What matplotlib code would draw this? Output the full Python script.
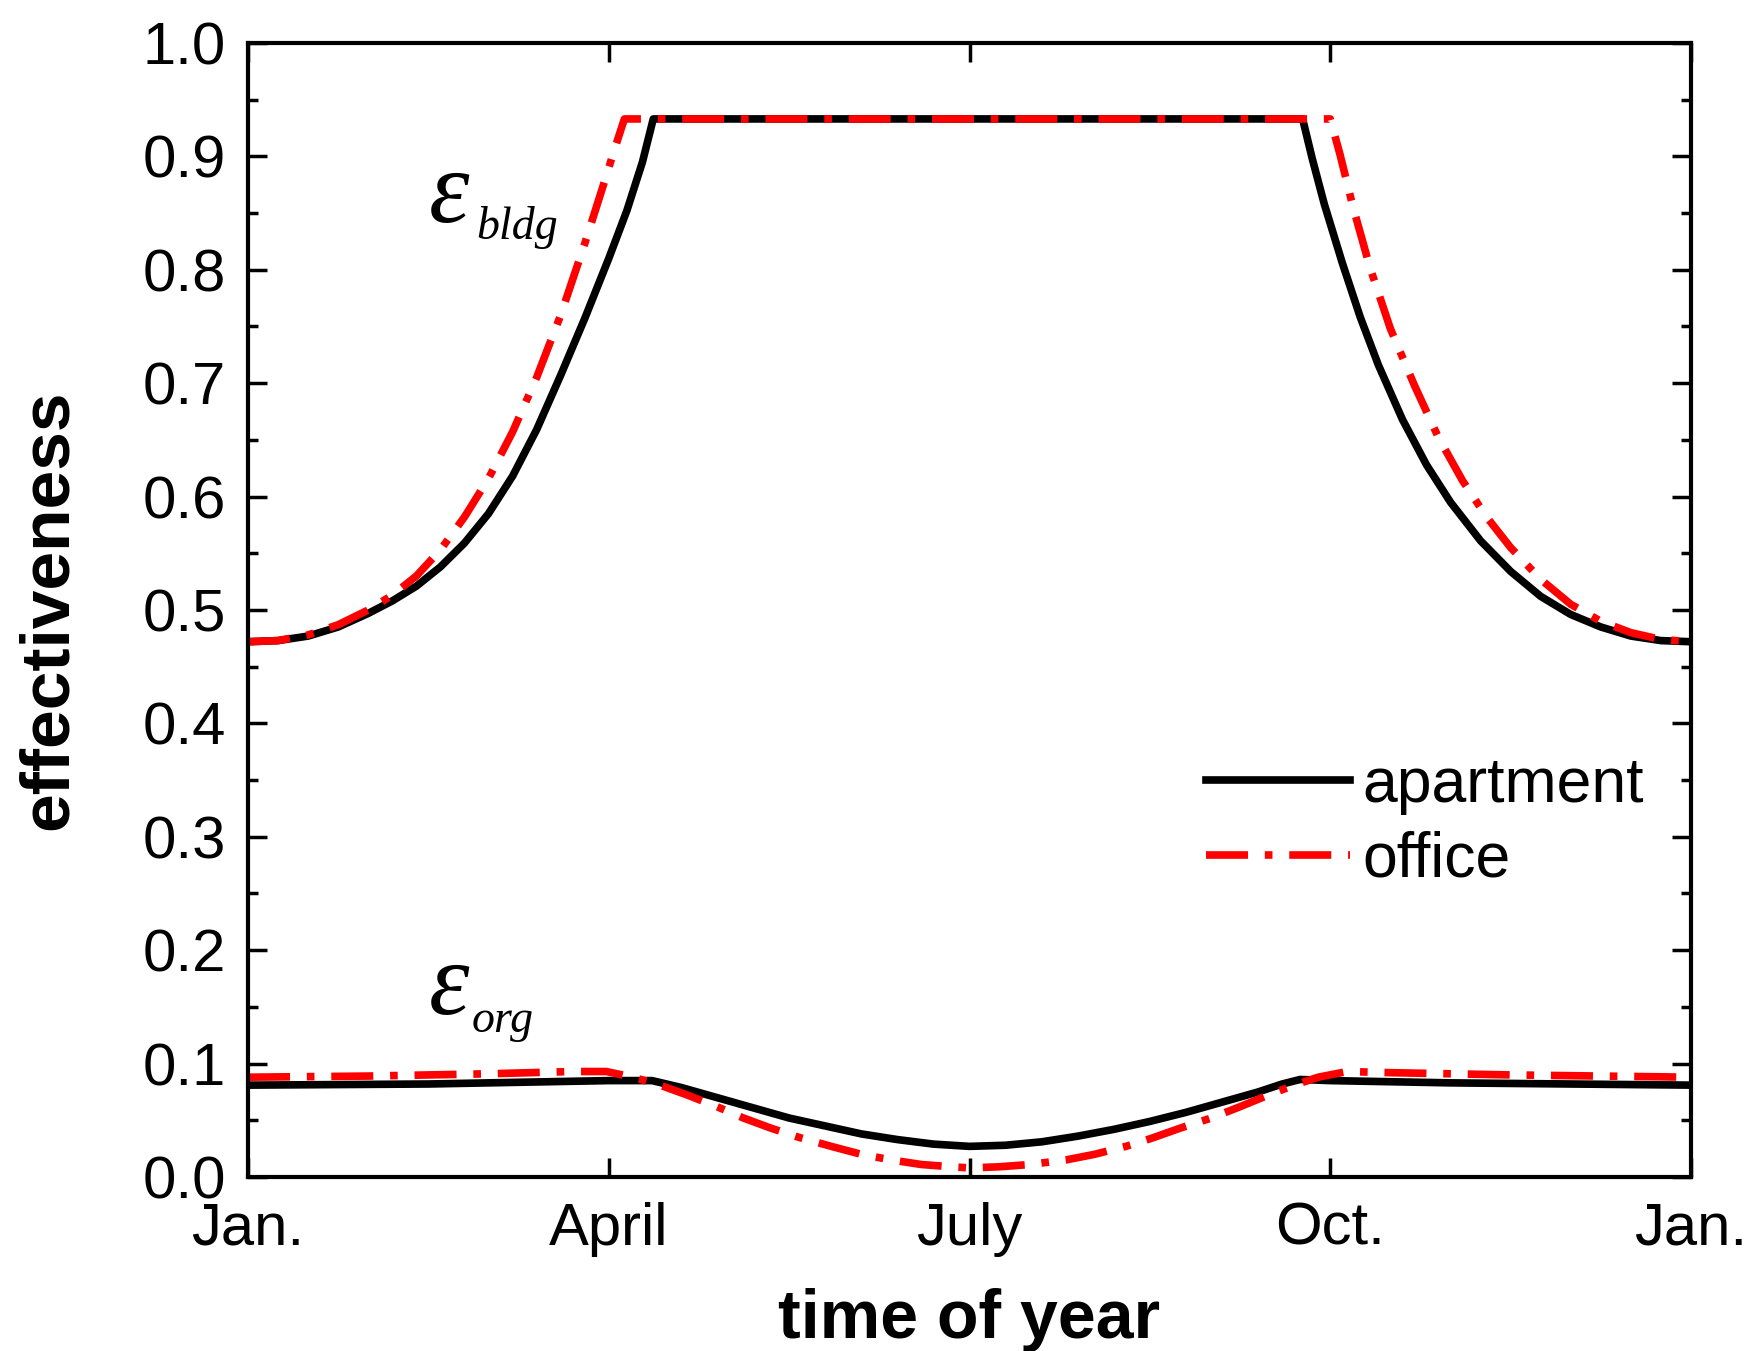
import matplotlib
matplotlib.use("Agg")
import matplotlib.pyplot as plt
from matplotlib.ticker import MultipleLocator

plt.rcParams['font.family'] = ['Liberation Sans', 'DejaVu Sans']

# months from Jan. (0) to next Jan. (12)
month_ticks = [0, 3, 6, 9, 12]
month_labels = ["Jan.", "April", "July", "Oct.", "Jan."]

# building effectiveness
apt_bldg_x = [0, 0.25, 0.5, 0.75, 1.0, 1.2, 1.4, 1.6, 1.8, 2.0, 2.2, 2.4, 2.6, 2.8, 3.0, 3.15, 3.28, 3.37,
              8.77, 8.85, 8.95, 9.1, 9.25, 9.4, 9.6, 9.8, 10.0, 10.25, 10.5, 10.75, 11.0, 11.25, 11.5, 11.75, 12]
apt_bldg_y = [0.472, 0.473, 0.477, 0.485, 0.497, 0.508, 0.521, 0.538, 0.559, 0.585, 0.618, 0.659, 0.707,
              0.757, 0.810, 0.852, 0.895, 0.933,
              0.933, 0.898, 0.858, 0.806, 0.758, 0.716, 0.668, 0.628, 0.595, 0.561, 0.534, 0.512, 0.496,
              0.485, 0.477, 0.473, 0.472]
off_bldg_x = [0, 0.25, 0.5, 0.75, 1.0, 1.2, 1.4, 1.6, 1.8, 2.0, 2.2, 2.4, 2.6, 2.8, 2.95, 3.05, 3.13,
              9.0, 9.08, 9.19, 9.33, 9.5, 9.7, 9.9, 10.1, 10.3, 10.5, 10.75, 11.0, 11.25, 11.5, 11.75, 12]
off_bldg_y = [0.472, 0.473, 0.478, 0.487, 0.500, 0.513, 0.530, 0.553, 0.582, 0.616, 0.657, 0.705, 0.760,
              0.823, 0.873, 0.907, 0.933,
              0.933, 0.902, 0.855, 0.802, 0.748, 0.698, 0.652, 0.614, 0.582, 0.555, 0.527, 0.505, 0.490,
              0.480, 0.474, 0.472]

# organisation effectiveness
apt_org_x = [0, 1.5, 2.5, 3.0, 3.36, 3.6, 3.9, 4.2, 4.5, 4.8, 5.1, 5.4, 5.7, 6.0, 6.3, 6.6, 6.9, 7.2, 7.5,
             7.8, 8.1, 8.4, 8.6, 8.75, 9.0, 10.0, 11.0, 12]
apt_org_y = [0.081, 0.082, 0.084, 0.085, 0.085, 0.079, 0.070, 0.061, 0.052, 0.045, 0.038, 0.033, 0.029,
             0.027, 0.028, 0.031, 0.036, 0.042, 0.049, 0.057, 0.066, 0.075, 0.082, 0.086, 0.085, 0.083,
             0.082, 0.081]
off_org_x = [0, 1, 2, 2.7, 2.98, 3.2, 3.4, 3.66, 3.9, 4.12, 4.35, 4.58, 4.85, 5.1, 5.35, 5.6, 5.85, 6.0,
             6.25, 6.5, 6.8, 7.04, 7.3, 7.51, 7.75, 8.01, 8.25, 8.48, 8.7, 8.9, 9.14, 9.5, 10.5, 12]
off_org_y = [0.088, 0.089, 0.091, 0.093, 0.093, 0.088, 0.082, 0.072, 0.062, 0.052, 0.043, 0.035, 0.027,
             0.020, 0.015, 0.011, 0.009, 0.008, 0.009, 0.011, 0.015, 0.020, 0.027, 0.034, 0.043, 0.052,
             0.062, 0.072, 0.081, 0.088, 0.093, 0.092, 0.090, 0.088]

fig = plt.figure(figsize=(17.54, 13.51), dpi=100)
ax = fig.add_axes([0.1414, 0.1288, 0.8227, 0.8394])

lw = 5.5
dashdot = (5.5, 2.2, 1, 2.2)
ax.plot(apt_bldg_x, apt_bldg_y, color="black", lw=lw, label="apartment")
ax.plot(apt_org_x, apt_org_y, color="black", lw=lw)
ax.plot(off_bldg_x, off_bldg_y, color="red", lw=lw, dashes=dashdot, label="office")
ax.plot(off_org_x, off_org_y, color="red", lw=lw, dashes=dashdot)

# labels on the curves
serif = dict(family="Liberation Serif", style="italic")
ax.text(1.50, 0.842, "\u03b5", fontsize=74, ha="left", va="baseline", **serif)
ax.text(1.90, 0.827, "bldg", fontsize=33, ha="left", va="baseline", **serif)
ax.text(1.50, 0.144, "\u03b5", fontsize=74, ha="left", va="baseline", **serif)
ax.text(1.86, 0.128, "org", fontsize=33, ha="left", va="baseline", **serif)

ax.set_xlim(0, 12)
ax.set_ylim(0, 1.0)
ax.set_xticks(month_ticks)
ax.set_xticklabels(month_labels)
ax.yaxis.set_major_locator(MultipleLocator(0.1))
ax.yaxis.set_minor_locator(MultipleLocator(0.05))
ax.tick_params(which="both", direction="in", top=True, right=True, width=2.5)
ax.tick_params(which="major", length=14, labelsize=43)
ax.tick_params(which="minor", length=7)
ax.tick_params(axis="x", pad=18)
ax.tick_params(axis="y", pad=16)
for s in ax.spines.values():
    s.set_linewidth(3)

ax.set_xlabel("time of year", fontsize=49, fontweight="bold", labelpad=22)
ax.set_ylabel("effectiveness", fontsize=50, fontweight="bold", labelpad=44)

ax.legend(loc="center left", bbox_to_anchor=(0.664, 0.312), frameon=False, fontsize=45,
          handlelength=2.3, handletextpad=0.2, labelspacing=0.25, borderpad=0, borderaxespad=0)

fig.savefig("out.png", dpi=100)
